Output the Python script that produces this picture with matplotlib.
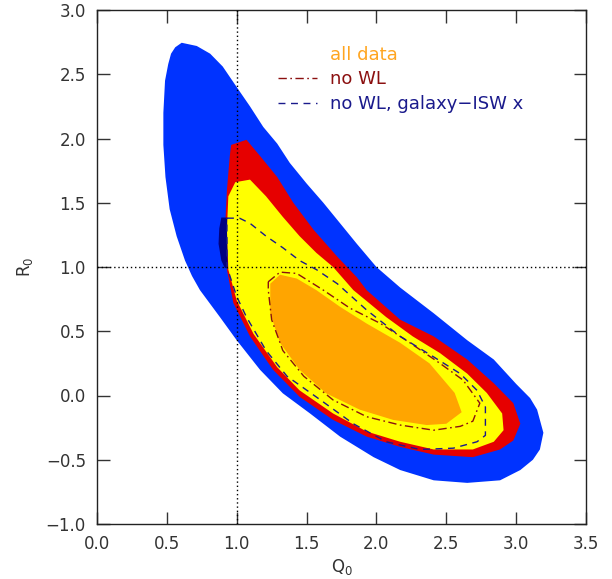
import matplotlib
matplotlib.use("Agg")
import matplotlib.pyplot as plt
from matplotlib.lines import Line2D

# ---- data (Q0, R0) contour boundaries ----
blue_q = [0.606, 0.714, 0.81, 0.90, 1.00, 1.095, 1.19, 1.29, 1.38, 1.50, 1.62, 1.74, 1.86, 2.00,
          2.17, 2.41, 2.65, 2.84, 3.00, 3.10, 3.15, 3.195, 3.17, 3.12, 3.03, 2.885, 2.65, 2.41,
          2.17, 1.98, 1.74, 1.525, 1.33, 1.167, 1.00, 0.88, 0.737, 0.68, 0.63, 0.57, 0.52,
          0.49, 0.475, 0.475, 0.487, 0.51, 0.53, 0.56]
blue_r = [2.745, 2.72, 2.66, 2.56, 2.40, 2.25, 2.09, 1.96, 1.81, 1.65, 1.50, 1.34, 1.18, 1.00,
          0.84, 0.64, 0.43, 0.28, 0.09, -0.02, -0.11, -0.29, -0.42, -0.50, -0.58, -0.66, -0.68,
          -0.66, -0.58, -0.48, -0.32, -0.14, 0.017, 0.20, 0.43, 0.61, 0.82, 0.93, 1.05, 1.24,
          1.45, 1.70, 1.95, 2.20, 2.45, 2.58, 2.66, 2.71]

red_q = [1.07, 1.17, 1.29, 1.405, 1.55, 1.72, 1.86, 1.93, 2.17, 2.41, 2.65, 2.84, 2.98, 3.03,
         2.98, 2.885, 2.69, 2.41, 2.17, 1.93, 1.69, 1.45, 1.26, 1.095, 0.976, 0.93, 0.916,
         0.93, 0.95, 0.96]
red_r = [1.99, 1.86, 1.70, 1.50, 1.29, 1.08, 0.92, 0.82, 0.59, 0.46, 0.28, 0.095, -0.06, -0.22,
         -0.35, -0.42, -0.48, -0.46, -0.40, -0.32, -0.19, -0.01, 0.20, 0.46, 0.72, 0.98, 1.29,
         1.60, 1.86, 1.95]

yellow_q = [0.99, 1.095, 1.21, 1.33, 1.45, 1.57, 1.69, 1.835, 2.07, 2.26, 2.455, 2.65, 2.79,
            2.90, 2.91, 2.84, 2.69, 2.41, 2.17, 1.93, 1.69, 1.45, 1.29, 1.12, 1.00, 0.94,
            0.93, 0.94]
yellow_r = [1.66, 1.68, 1.55, 1.39, 1.24, 1.11, 1.00, 0.82, 0.61, 0.46, 0.33, 0.17, 0.02,
            -0.14, -0.27, -0.36, -0.42, -0.42, -0.36, -0.28, -0.14, 0.04, 0.22, 0.48, 0.74,
            0.98, 1.29, 1.55]

navy_q = [0.89, 0.935, 0.935, 0.916, 0.89, 0.87, 0.875]
navy_r = [1.385, 1.385, 1.00, 0.99, 1.05, 1.18, 1.30]

orange_q = [1.24, 1.31, 1.43, 1.57, 1.74, 1.93, 2.17, 2.38, 2.56, 2.61, 2.50, 2.36, 2.12, 1.88,
            1.64, 1.45, 1.31, 1.24]
orange_r = [0.87, 0.94, 0.91, 0.82, 0.69, 0.56, 0.41, 0.25, 0.02, -0.13, -0.22, -0.23, -0.19,
            -0.11, 0.017, 0.20, 0.41, 0.64]

nowl_q = [1.226, 1.31, 1.43, 1.62, 1.81, 2.03, 2.24, 2.455, 2.62, 2.74, 2.69, 2.60, 2.41, 2.17,
          1.93, 1.69, 1.48, 1.33, 1.25, 1.226, 1.226]
nowl_r = [0.885, 0.96, 0.95, 0.82, 0.68, 0.56, 0.41, 0.25, 0.12, -0.06, -0.20, -0.24, -0.27,
          -0.23, -0.165, -0.035, 0.15, 0.35, 0.59, 0.82, 0.885]

isw_q = [0.93, 1.02, 1.095, 1.21, 1.33, 1.45, 1.57, 1.72, 1.93, 2.17, 2.41, 2.60, 2.72, 2.78,
         2.78, 2.72, 2.55, 2.31, 2.07, 1.835, 1.60, 1.36, 1.21, 1.07, 1.00, 0.93, 0.93]
isw_r = [1.38, 1.38, 1.34, 1.24, 1.15, 1.05, 0.98, 0.87, 0.665, 0.46, 0.30, 0.17, 0.04, -0.09,
         -0.31, -0.36, -0.41, -0.42, -0.36, -0.22, -0.035, 0.15, 0.35, 0.61, 0.77, 1.00, 1.38]

ref_q = 1.0
ref_r = 1.0
xticks = [0.0, 0.5, 1.0, 1.5, 2.0, 2.5, 3.0, 3.5]
yticks = [-1.0, -0.5, 0.0, 0.5, 1.0, 1.5, 2.0, 2.5, 3.0]
labels = ["all data", "no WL", "no WL, galaxy\u2212ISW x"]

# ---- figure ----
plt.rcParams['font.family'] = ['DejaVu Sans']
fig = plt.figure(figsize=(6.12, 5.79), dpi=100)
ax = fig.add_axes([97/612, 1-524/579, (586-97)/612, (524-10)/579])

C_BLUE = '#0033ff'
C_RED = '#e60000'
C_YEL = '#ffff00'
C_ORA = '#ffa500'
C_NAVY = '#000080'
C_DD = '#8b1010'
C_DASH = '#1a1a8c'
DD_STYLE = (0, (6, 2.5, 1.2, 2.5))
DASH_STYLE = (0, (5, 4))

ax.fill(blue_q, blue_r, color=C_BLUE, lw=0, zorder=1)
ax.fill(red_q, red_r, color=C_RED, lw=0, zorder=2)
ax.fill(navy_q, navy_r, color=C_NAVY, lw=0, zorder=2.5)
ax.fill(yellow_q, yellow_r, color=C_YEL, lw=0, zorder=3)
ax.fill(orange_q, orange_r, color=C_ORA, lw=0, zorder=4)

ax.plot(nowl_q, nowl_r, color=C_DD, lw=1.0, linestyle=DD_STYLE, zorder=5)
ax.plot(isw_q, isw_r, color=C_DASH, lw=1.0, linestyle=DASH_STYLE, zorder=5)

ax.axvline(ref_q, color='black', lw=1.0, linestyle=(0, (1, 2)), zorder=6)
ax.axhline(ref_r, color='black', lw=1.0, linestyle=(0, (1, 2)), zorder=6)

ax.set_xlim(0.0, 3.5)
ax.set_ylim(-1.0, 3.0)
ax.set_xticks(xticks)
ax.set_yticks(yticks)
ax.set_xticklabels([f"{v:.1f}" for v in xticks])
ax.set_yticklabels([f"{v:.1f}".replace('-', '\u2212') for v in yticks])
ax.tick_params(direction='in', length=9, width=1, top=True, right=True,
               labelsize=12, labelcolor='#333333', pad=8, color='#333333')
for s in ax.spines.values():
    s.set_linewidth(1.0)
    s.set_color('#222222')

ax.set_xlabel('Q$_0$', fontsize=12, color='#333333', labelpad=3)
ax.set_ylabel('R$_0$', fontsize=12, color='#333333', labelpad=8)

handles = [Line2D([], [], color='none'),
           Line2D([], [], color=C_DD, lw=1.0, linestyle=DD_STYLE),
           Line2D([], [], color=C_DASH, lw=1.0, linestyle=DASH_STYLE)]
leg = ax.legend(handles, labels, loc='upper left', bbox_to_anchor=(278/612, 1-46/579),
                bbox_transform=fig.transFigure, frameon=False, fontsize=13,
                handlelength=2.16, handletextpad=0.72, labelspacing=0.36,
                borderpad=0, borderaxespad=0,
                labelcolor=['#ffa520', C_DD, C_DASH])

fig.savefig('out.png', dpi=100)
